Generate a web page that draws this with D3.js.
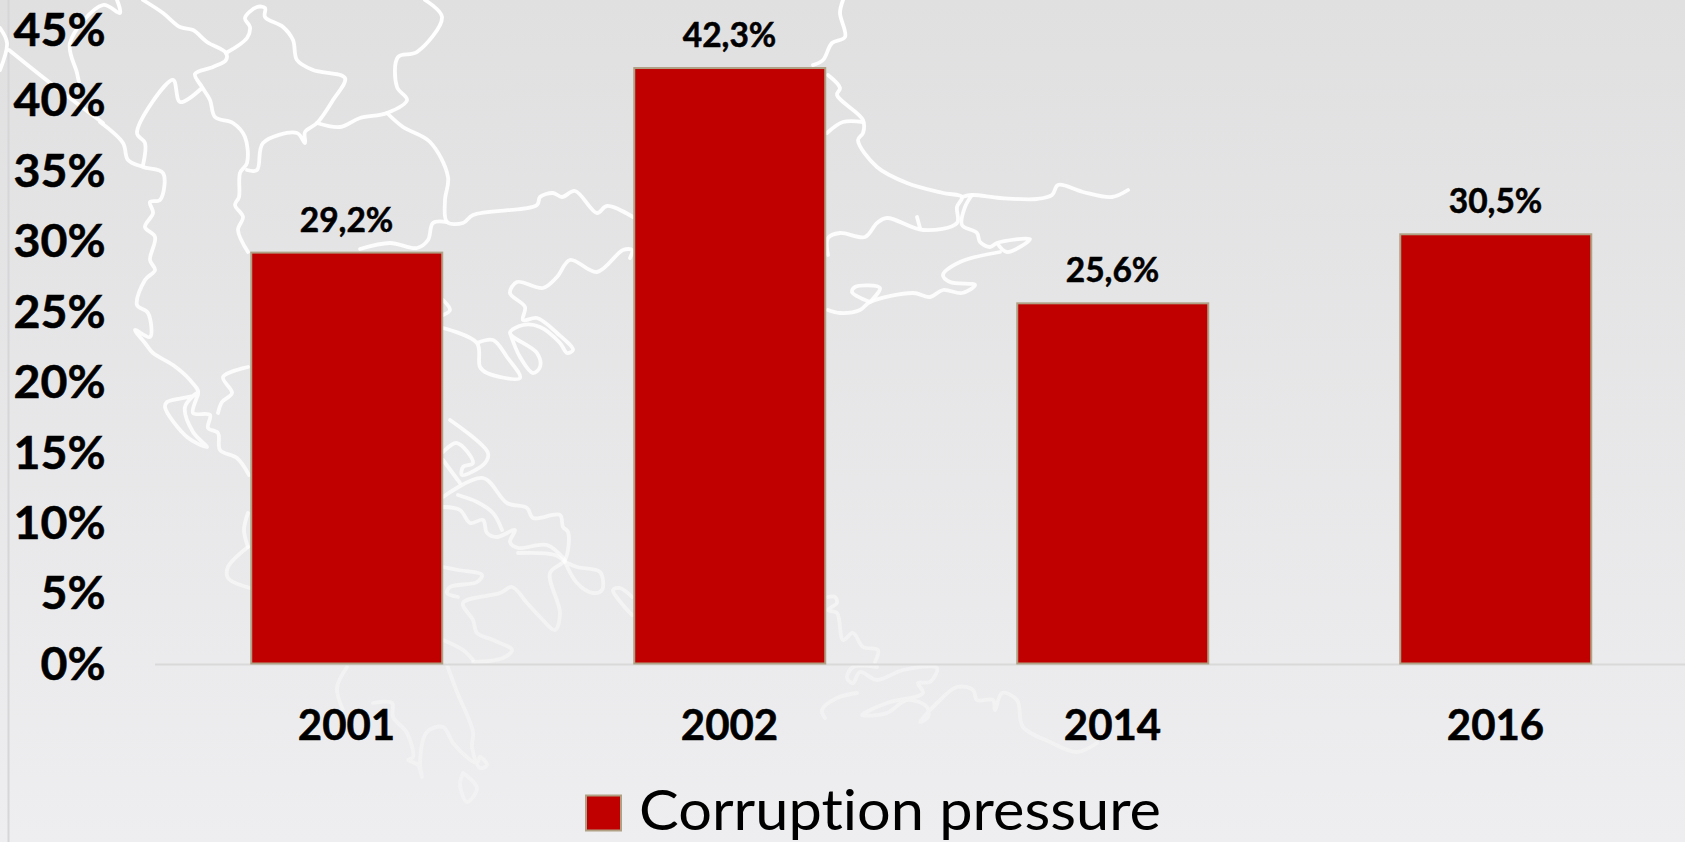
<!DOCTYPE html>
<html><head><meta charset="utf-8">
<script src="https://cdn.jsdelivr.net/npm/d3@7"></script>
<style>
html,body{margin:0;padding:0;background:#eeeef0;overflow:hidden}
svg{display:block}
text{font-family:Lato,"Open Sans",sans-serif;fill:#000;font-variant-ligatures:none}
.b{stroke:#000;stroke-width:0.5px}
</style></head><body>
<svg id="c" width="1685" height="842"></svg>
<script>
const categories = ["2001","2002","2014","2016"];
const pressure = [29.2,42.3,25.6,30.5];
const seriesName = "Corruption pressure";
const yTicks = [0,5,10,15,20,25,30,35,40,45];

// Decorative background map outline
const mapOutline = [
"M143,0L163,13L180,27L193,30L207,42L226,53L226,60L213,67L195,74L202,87L210,100L215,117L233,123L245,137L247,163L240,173L239,197L235,205L243,217L238,230L248,252",
"M226,53L247,38L250,27L245,18L257,7L265,8L265,17L283,27L293,40L297,60L313,70L345,78L333,100L317,123L305,132L305,143L297,133L263,143L257,170L247,170",
"M317,123L340,127L360,118L387,113L407,100L397,87L398,57L417,52L442,17L425,0",
"M387,113L403,127L430,142L448,177L445,200L447,222L463,223L473,215L537,205L540,197L553,193L562,197L575,191L597,213L607,206L633,217",
"M447,222L433,223L428,240L417,248L390,243L360,249",
"M202,88L180,102L173,80L137,133L145,143L143,165",
"M100,122L123,143L128,160L143,167L163,173L160,200L150,202L153,213L145,227L155,237L150,260L155,270L145,280L137,305L148,313L150,337L135,330L145,343L153,353L173,365L190,380L198,393L167,402L165,407L187,437L207,447L193,432L185,407L198,393L193,413L210,415L208,428L218,433L220,450L237,458L249,475",
"M248,367L223,377L232,393L222,402L218,413",
"M248,513L244,530L248,547M248,547L228,567L228,578L250,588",
"M443,300L450,310L443,315M443,328L477,343L480,367L487,373L520,378L507,357L493,340L477,343",
"M510,333L520,357L533,373L540,367L537,353L510,333L523,325L540,327L560,343L567,353L573,350L557,333L537,318L523,320L525,307L510,293L517,282L543,288L557,277L570,260L597,272L623,250L632,250L630,258",
"M843,0L840,13L845,37L832,43L823,60L813,65M828,75L840,88L837,95L863,120L863,133L858,140L877,167L907,183L943,193L962,197L957,207L957,223L923,230L887,218L877,223L865,237L840,233L828,238L828,255",
"M863,122L843,122L827,133M917,217L920,228",
"M962,197L972,195L1000,198L1037,199L1052,195L1058,185L1083,192L1112,197L1128,190",
"M972,195L965,207L962,225L977,233L980,242L990,247L997,243L1030,239L1007,252L997,243",
"M1000,252L960,262L943,275L950,282L975,285L962,293L943,290L930,297L913,293L870,302L860,310L840,313L828,310",
"M870,302L852,292L855,287L880,288L870,302",
"M450,420L488,453L485,463L462,475L463,467L473,463L457,443L443,452M443,460L460,483",
"M443,497L483,478L507,503L527,508L533,518L560,515L563,527L568,532L565,560L550,573L560,613L555,630L540,617L527,603L512,587L500,593L463,603L473,620L477,633L493,640L512,650L503,658L473,662",
"M565,562L577,567L600,572L602,590L593,593L577,583L565,562",
"M565,560L547,545L518,548L510,542L515,530L497,537L487,533L483,520L470,523L460,510L443,507M458,495L477,502L493,513L502,530M518,553L555,555L565,562",
"M443,567L458,570L482,575L477,582L450,587L447,593L458,597M443,640L463,650L473,660",
"M632,615L613,590L620,588L632,597",
"M347,667L337,688L343,710M373,703L392,703L393,717L407,733L413,757L408,760L418,765L422,777L420,763L427,732L443,727L453,743L468,758L477,763L480,757L487,765L480,768L472,747L473,732L457,692L447,665",
"M463,773L460,785L467,802L477,788L463,773",
"M828,597L835,597L837,603L828,610L837,613L843,640L853,633L863,647L878,650L875,662M877,667L853,667L847,678L853,683L860,672L877,680L903,670L937,668L930,682L918,683L923,693L887,703L862,715L887,713L907,700L927,707L928,717L920,722L937,703L957,687L973,690L977,700L993,700L995,710L1002,693L1017,700L1023,727L1050,742L1077,752L1097,743",
"M857,693L837,698L822,710L825,718",
"M9,50L49,82L103,123M0,28L7,43L0,70",
"M117,0L120,13L103,5L70,43L77,73L80,87"
];

const svg = d3.select("#c");
const W = 1685, H = 842;
const defs = svg.append("defs");
const bg = defs.append("linearGradient").attr("id","bg").attr("x1",0).attr("y1",0).attr("x2",0).attr("y2",1);
bg.append("stop").attr("offset",0).attr("stop-color","#e0e0e1");
bg.append("stop").attr("offset",1).attr("stop-color","#eeeef0");
const ms = defs.append("linearGradient").attr("id","ms").attr("gradientUnits","userSpaceOnUse")
  .attr("x1",0).attr("y1",0).attr("x2",0).attr("y2",842);
[[0,1],[0.5,0.85],[0.75,0.4],[1,0.25]].forEach(d=>ms.append("stop").attr("offset",d[0]).attr("stop-color","#fff").attr("stop-opacity",d[1]));
defs.append("filter").attr("id","soft").attr("filterUnits","userSpaceOnUse")
  .attr("x",0).attr("y",0).attr("width",W).attr("height",H)
  .append("feGaussianBlur").attr("stdDeviation",0.6);

svg.append("rect").attr("width",W).attr("height",H).attr("fill","url(#bg)");
svg.append("rect").attr("x",7.5).attr("width",2).attr("height",H).attr("fill","#d6d6d8");

const smooth = d3.line().curve(d3.curveCatmullRom.alpha(0.5));
const mapPieces = mapOutline.flatMap(s => s.split("M").filter(Boolean)
  .map(p => p.split("L").map(q => q.split(",").map(Number))));
svg.append("g").attr("filter","url(#soft)").selectAll("path").data(mapPieces).join("path")
  .attr("d",smooth).attr("fill","none").attr("stroke","url(#ms)").attr("stroke-width",3.8)
  .attr("stroke-linejoin","round").attr("stroke-linecap","round");

const x = d3.scaleBand().domain(categories).range([155,1687]).paddingInner(0.5).paddingOuter(0.25);
const y = d3.scaleLinear().domain([0,45]).range([664,30]);

const fmt = v => v.toFixed(1).replace(".",",")+"%";

const gy = svg.append("g").attr("transform","translate(105.5,0)")
  .call(d3.axisLeft(y).tickValues(yTicks).tickFormat(d=>d+"%").tickSize(0).tickPadding(0));
gy.select(".domain").remove();
gy.selectAll("text").attr("font-size",46.5).attr("font-weight",700).attr("class","b").style("font-family","Lato").attr("fill","#000").attr("dy","0.33em");

const gx = svg.append("g").attr("transform","translate(0,664.5)")
  .call(d3.axisBottom(x).tickSize(0).tickPadding(0));
gx.select(".domain").attr("stroke","#d9d9da").attr("stroke-width",2).attr("d","M155,0H1685");
gx.selectAll("text").attr("font-size",42).attr("font-weight",700).attr("class","b").style("font-family","Lato").attr("fill","#000").attr("y",75).attr("dy",0);

svg.append("g").selectAll("rect").data(categories).join("rect")
  .attr("x",d=>x(d)+0.5)
  .attr("width",x.bandwidth()-0.5)
  .attr("y",(d,i)=>y(pressure[i]))
  .attr("height",(d,i)=>y(0)-y(pressure[i])-0.5)
  .attr("fill","#c00000").attr("stroke","#b0a084").attr("stroke-width",2);

svg.append("g").selectAll("text").data(categories).join("text")
  .attr("class","b")
  .attr("x",d=>x(d)+x.bandwidth()/2)
  .attr("y",(d,i)=>y(pressure[i])-21)
  .attr("text-anchor","middle").attr("font-size",33.5).attr("font-weight",700)
  .text((d,i)=>fmt(pressure[i]));

svg.append("rect").attr("x",586).attr("y",795.5).attr("width",35).attr("height",35)
  .attr("fill","#c00000").attr("stroke","#b0a084").attr("stroke-width",2);
svg.append("text").attr("x",639).attr("y",830).attr("font-size",57)
  .attr("textLength",522).attr("lengthAdjust","spacingAndGlyphs").text(seriesName);
</script></body></html>
